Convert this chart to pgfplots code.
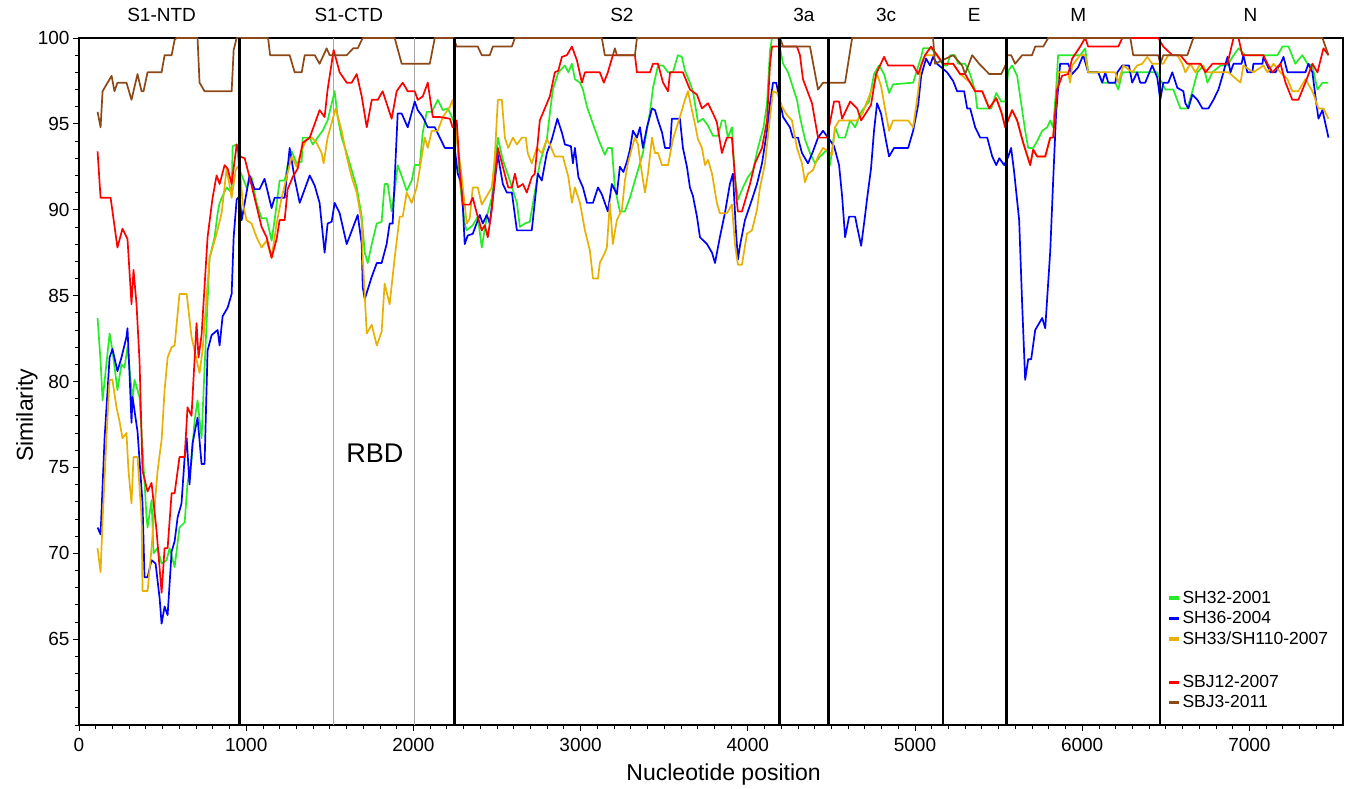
\documentclass[border=0pt]{standalone}
\usepackage{fontspec}
\setmainfont{Liberation Sans}
\usepackage{pgfplots}
\pgfplotsset{compat=1.18}
\definecolor{cgreen}{RGB}{40,235,40}
\definecolor{cblue}{RGB}{0,0,255}
\definecolor{cyellow}{RGB}{232,176,0}
\definecolor{cred}{RGB}{255,0,0}
\definecolor{cbrown}{RGB}{140,72,22}
\begin{document}
\begin{tikzpicture}
\begin{axis}[
  name=ax,
  scale only axis, width=1264pt, height=687pt,
  xmin=0, xmax=7560, ymin=60, ymax=100,
  clip=false,
  xtick={0,1000,...,7000},
  minor xtick={0,100,...,7500},
  ytick={65,70,...,100},
  minor ytick={60,61,...,100},
  tick align=outside, tick pos=left,
  major tick length=6pt, minor tick length=4pt,
  every tick/.style={black, line width=0.8pt},
  axis line style={black, line width=1.2pt},
  scaled x ticks=false,
  /pgf/number format/.cd, set thousands separator={}, assume math mode=true,
  /pgfplots/.cd,
  tick label style={font=\fontsize{19}{22}\selectfont},
  xticklabel style={yshift=-4pt},
  xlabel={Nucleotide position}, ylabel={Similarity},
  label style={font=\fontsize{23}{26}\selectfont},
  xlabel style={at={(axis description cs:0.51,0)}, anchor=center, yshift=-50pt},
  ylabel style={at={(axis description cs:-0.0411,0.451)}, anchor=center},
  legend style={at={(rel axis cs:0.861,0.197)}, anchor=north west, draw=none, fill=none,
    font=\fontsize{17.5}{20}\selectfont, row sep=3.5pt, inner sep=0pt, nodes={inner sep=1.5pt}},
  legend cell align=left,
  legend image code/.code={\draw[#1, line width=3.5pt] (0pt,0pt) -- (10pt,0pt);},
  every axis plot/.append style={line width=1.7pt, line join=round},
]
% RBD boundaries (thin gray)
\draw[gray!70, line width=1pt] (axis cs:1523,60) -- (axis cs:1523,100);
\draw[gray!70, line width=1pt] (axis cs:2008,60) -- (axis cs:2008,100);

\addplot[cgreen] coordinates {
(111,83.7)(129,81.2)(141,78.9)(183,82.8)(200,81.8)(230,79.5)(254,81.0)(272,80.8)(290,82.0)(320,78.9)(332,80.1)(362,79.1)(404,72.1)(410,71.5)(434,73.1)(446,70.0)(470,70.3)(494,69.4)(524,69.6)(542,70.3)(572,69.2)(601,71.5)(632,71.8)(649,74.1)(673,75.4)(691,77.7)(709,78.9)(733,76.7)(751,80.8)(781,87.2)(811,88.4)(829,89.8)(841,90.4)(859,90.8)(883,91.3)(913,91.0)(919,93.7)(943,93.8)(961,92.3)(1002,91.3)(1032,91.9)(1062,90.4)(1092,89.5)(1122,89.5)(1152,88.2)(1170,89.4)(1200,91.7)(1230,91.7)(1248,92.6)(1272,93.4)(1302,92.7)(1332,92.8)(1338,94.2)(1380,94.2)(1398,93.8)(1427,94.2)(1457,94.6)(1487,95.2)(1529,96.9)(1547,95.4)(1571,94.2)(1601,93.3)(1631,92.3)(1661,91.3)(1691,89.6)(1709,87.5)(1727,86.9)(1751,88.0)(1781,89.2)(1810,89.3)(1828,91.5)(1846,91.5)(1870,89.9)(1888,91.1)(1906,92.6)(1936,91.8)(1960,91.1)(1990,91.7)(2008,92.6)(2038,92.6)(2056,94.5)(2080,95.7)(2110,95.7)(2146,96.4)(2176,95.8)(2206,95.9)(2235,95.3)(2259,94.6)(2277,91.7)(2307,89.2)(2319,88.8)(2355,89.1)(2385,89.6)(2409,87.8)(2439,89.6)(2469,90.7)(2505,94.2)(2535,92.9)(2577,91.7)(2619,90.4)(2637,89.0)(2666,89.2)(2696,89.3)(2726,91.0)(2756,92.7)(2798,94.1)(2816,95.6)(2834,97.0)(2867,98.0)(2906,98.4)(2927,98.0)(2948,98.5)(2966,97.6)(2996,97.4)(3014,97.0)(3038,96.0)(3074,95.0)(3115,93.9)(3145,93.2)(3163,93.6)(3187,93.6)(3205,91.3)(3235,89.9)(3265,89.9)(3295,90.7)(3337,92.1)(3373,93.3)(3415,95.7)(3433,97.1)(3463,98.4)(3493,98.4)(3523,98.0)(3552,98.0)(3582,99.0)(3606,98.9)(3624,98.1)(3642,97.7)(3672,96.9)(3702,95.1)(3732,95.3)(3762,94.9)(3792,94.3)(3821,94.3)(3845,95.2)(3863,95.2)(3881,94.2)(3905,94.8)(3923,91.9)(3941,90.6)(3971,91.3)(4001,91.9)(4031,92.3)(4061,93.6)(4094,94.8)(4115,96.2)(4133,99.3)(4145,100)(4181,100)(4211,98.5)(4241,98.0)(4294,96.4)(4312,95.4)(4342,94.1)(4372,93.3)(4402,92.7)(4432,93.1)(4474,93.5)(4492,92.6)(4522,94.8)(4546,94.2)(4582,94.2)(4612,95.2)(4642,94.8)(4678,95.7)(4725,96.3)(4755,97.9)(4785,98.4)(4815,97.9)(4845,96.8)(4869,97.3)(4989,97.4)(5037,98.9)(5049,99.4)(5096,99.4)(5132,99.0)(5168,98.4)(5192,98.4)(5210,99.0)(5240,99.0)(5258,98.5)(5300,98.5)(5330,97.9)(5360,96.9)(5372,95.9)(5456,95.9)(5486,96.8)(5516,96.3)(5540,96.3)(5558,98.1)(5581,98.4)(5611,97.8)(5629,96.6)(5659,94.6)(5677,93.6)(5707,93.6)(5731,94.0)(5761,94.6)(5791,94.8)(5809,95.2)(5826,94.8)(5844,97.0)(5856,99.0)(5928,99.0)(5988,99.0)(6018,99.4)(6036,98.0)(6096,98.0)(6120,97.4)(6198,97.4)(6216,97.0)(6240,98.0)(6449,98.0)(6467,97.6)(6497,97.0)(6545,97.0)(6587,95.9)(6629,95.9)(6659,96.9)(6689,98.0)(6725,98.4)(6749,97.4)(6779,98.0)(6827,98.4)(6869,98.4)(6899,98.9)(6935,99.4)(6976,99.0)(7168,99.0)(7198,99.5)(7234,99.5)(7275,98.5)(7317,99.0)(7347,98.5)(7377,98.4)(7407,97.0)(7437,97.4)(7473,97.4)
};
\addlegendentry{SH32-2001}

\addplot[cblue] coordinates {
(111,71.5)(129,71.1)(153,76.7)(183,81.4)(200,81.9)(230,80.6)(254,81.4)(284,82.6)(290,83.1)(302,80.5)(314,77.6)(320,79.1)(350,77.1)(380,72.9)(392,68.6)(410,68.6)(434,69.6)(458,69.4)(482,67.4)(494,65.9)(512,66.9)(530,66.4)(554,70.1)(572,70.7)(590,72.1)(613,72.9)(632,75.6)(644,76.7)(661,74.0)(679,76.4)(709,77.9)(733,75.2)(751,75.2)(769,81.8)(793,82.7)(829,83.0)(841,82.1)(859,83.8)(889,84.3)(913,85.1)(925,88.4)(943,90.6)(961,90.8)(973,89.4)(1002,91.0)(1020,92.0)(1050,91.2)(1080,91.2)(1110,91.8)(1152,90.1)(1170,90.7)(1230,90.7)(1260,93.6)(1290,91.8)(1320,90.4)(1350,91.2)(1380,92.0)(1410,91.4)(1439,90.4)(1469,87.5)(1487,89.2)(1511,89.3)(1529,90.4)(1559,89.8)(1601,88.0)(1640,89.0)(1667,89.7)(1691,88.0)(1697,85.5)(1709,84.8)(1751,86.1)(1781,86.9)(1810,86.9)(1840,88.0)(1858,89.2)(1876,89.2)(1906,95.6)(1930,95.6)(1966,94.8)(2008,96.3)(2026,95.8)(2056,95.4)(2086,94.8)(2128,94.8)(2188,93.6)(2247,93.6)(2265,92.1)(2289,91.5)(2307,88.0)(2325,88.5)(2355,88.6)(2397,89.7)(2415,89.2)(2439,89.7)(2457,89.2)(2505,93.2)(2535,91.5)(2559,91.0)(2589,91.0)(2619,88.8)(2708,88.8)(2744,92.1)(2768,91.7)(2798,93.3)(2828,94.1)(2861,95.3)(2888,94.5)(2906,93.8)(2942,93.7)(2954,92.7)(2966,93.6)(2987,91.9)(3014,91.3)(3038,90.4)(3074,90.4)(3104,91.3)(3127,90.9)(3163,89.9)(3187,91.5)(3217,90.9)(3235,92.5)(3256,92.2)(3277,92.8)(3295,93.5)(3313,94.6)(3337,94.2)(3355,94.8)(3373,93.6)(3397,94.8)(3427,95.9)(3445,95.8)(3463,95.2)(3487,94.5)(3505,93.6)(3535,93.6)(3546,95.3)(3594,95.3)(3612,93.6)(3636,92.5)(3654,91.3)(3672,90.8)(3696,89.6)(3714,88.4)(3756,88.0)(3786,87.5)(3804,86.9)(3833,88.4)(3863,89.8)(3893,91.5)(3911,92.1)(3929,88.8)(3941,87.1)(3953,87.9)(3983,89.4)(4025,90.6)(4055,91.5)(4085,92.7)(4115,94.6)(4133,96.2)(4151,97.4)(4170,97.4)(4193,96.3)(4211,95.4)(4252,94.8)(4270,94.2)(4300,94.2)(4324,93.3)(4360,92.7)(4390,93.4)(4420,94.2)(4450,94.6)(4480,94.2)(4516,93.7)(4546,92.6)(4564,90.8)(4582,88.4)(4606,89.6)(4642,89.6)(4654,89.0)(4678,87.9)(4698,89.4)(4713,90.6)(4737,92.4)(4755,94.6)(4773,96.2)(4797,95.6)(4827,94.0)(4845,93.1)(4875,93.6)(4959,93.6)(4989,94.6)(5019,96.1)(5037,97.8)(5066,98.8)(5090,98.4)(5108,98.9)(5132,98.5)(5192,98.0)(5228,97.5)(5252,96.9)(5294,96.9)(5312,95.9)(5330,95.9)(5360,94.8)(5390,94.2)(5432,94.2)(5462,93.1)(5486,92.6)(5504,93.0)(5534,92.6)(5558,93.1)(5575,93.6)(5593,92.2)(5623,89.4)(5641,84.5)(5659,80.1)(5677,81.3)(5695,81.3)(5719,83.0)(5731,83.2)(5761,83.7)(5779,83.1)(5809,87.6)(5826,91.6)(5844,95.6)(5868,98.5)(5916,98.5)(5940,97.9)(5976,98.3)(6006,99.0)(6036,98.0)(6096,98.0)(6120,97.4)(6138,98.0)(6156,97.4)(6198,97.4)(6210,98.0)(6240,98.4)(6280,98.4)(6299,97.4)(6329,98.0)(6347,97.4)(6377,97.4)(6419,98.4)(6449,97.7)(6467,96.4)(6485,97.4)(6515,97.4)(6539,98.0)(6569,97.1)(6605,96.9)(6617,96.2)(6635,95.9)(6659,96.7)(6689,96.4)(6719,95.9)(6755,95.9)(6785,96.4)(6815,97.0)(6845,98.0)(6869,98.9)(6887,98.0)(6905,98.5)(6953,98.5)(6964,99.0)(6988,98.0)(7018,98.0)(7024,98.5)(7078,98.5)(7084,98.9)(7126,98.0)(7156,98.0)(7186,98.5)(7204,98.9)(7228,98.0)(7335,98.0)(7353,98.5)(7377,98.0)(7395,96.6)(7413,95.3)(7437,95.8)(7473,94.2)
};
\addlegendentry{SH36-2004}

\addplot[cyellow] coordinates {
(111,70.3)(129,68.9)(141,71.9)(165,76.9)(183,80.1)(200,80.1)(224,78.5)(242,77.7)(260,76.7)(284,77.0)(296,74.8)(314,72.9)(326,75.6)(350,75.6)(374,72.1)(380,67.8)(410,67.8)(434,70.3)(452,72.7)(470,74.8)(494,76.6)(512,79.5)(530,81.4)(554,82.0)(572,82.1)(601,85.1)(644,85.1)(673,82.6)(691,81.8)(721,80.5)(739,81.8)(763,84.9)(781,87.2)(823,88.6)(853,89.8)(883,92.4)(913,90.7)(937,92.3)(949,92.5)(961,92.5)(979,90.4)(1002,89.4)(1032,89.2)(1062,88.4)(1092,87.8)(1122,88.2)(1152,87.2)(1182,89.2)(1212,90.7)(1242,91.9)(1272,93.1)(1302,92.5)(1332,93.5)(1362,94.1)(1392,94.2)(1421,93.9)(1451,93.3)(1463,92.7)(1487,94.2)(1535,95.9)(1571,94.6)(1601,93.1)(1631,91.9)(1661,91.0)(1691,89.3)(1697,87.2)(1721,82.8)(1751,83.3)(1781,82.1)(1810,82.9)(1828,85.7)(1858,84.5)(1888,87.2)(1918,89.6)(1936,89.6)(1960,91.0)(1990,90.4)(2020,91.3)(2050,93.1)(2068,94.2)(2086,93.6)(2110,94.6)(2146,94.6)(2176,95.4)(2218,96.0)(2235,96.4)(2259,94.2)(2289,91.9)(2319,89.2)(2337,89.5)(2355,91.3)(2385,91.3)(2409,90.3)(2439,90.8)(2469,91.3)(2487,93.1)(2505,96.4)(2529,96.4)(2547,94.2)(2567,93.6)(2595,94.2)(2619,93.8)(2649,94.2)(2672,94.2)(2684,93.3)(2708,92.7)(2738,93.6)(2768,93.3)(2798,94.1)(2816,93.8)(2846,93.1)(2894,93.1)(2927,91.9)(2948,90.4)(2966,91.3)(2996,90.4)(3026,88.8)(3056,87.6)(3074,86.0)(3104,86.0)(3115,86.9)(3145,87.5)(3157,87.8)(3175,90.4)(3193,88.0)(3217,89.4)(3247,90.0)(3265,91.7)(3283,92.7)(3307,93.6)(3325,94.2)(3343,93.8)(3367,92.1)(3385,91.0)(3403,92.1)(3427,94.2)(3445,93.3)(3463,93.3)(3487,92.6)(3523,92.6)(3552,94.1)(3594,95.4)(3624,96.4)(3642,96.9)(3666,95.8)(3684,95.0)(3702,94.1)(3726,93.6)(3744,92.6)(3762,92.9)(3786,92.1)(3815,90.4)(3833,89.8)(3875,89.8)(3905,90.3)(3923,88.0)(3941,86.8)(3965,86.8)(3995,88.6)(4025,88.8)(4055,90.0)(4073,91.3)(4103,92.7)(4133,95.4)(4151,96.9)(4175,96.8)(4205,96.0)(4235,95.5)(4264,95.2)(4294,93.6)(4324,92.7)(4342,91.6)(4360,92.1)(4390,92.3)(4420,93.1)(4450,93.6)(4480,93.4)(4504,93.2)(4522,94.8)(4546,95.2)(4612,95.2)(4654,95.2)(4686,95.6)(4713,96.3)(4755,97.3)(4773,97.9)(4797,97.2)(4815,96.2)(4845,94.6)(4869,95.2)(4959,95.2)(4989,94.8)(5019,96.9)(5037,98.5)(5060,99.0)(5132,99.0)(5168,98.5)(5228,98.5)(5270,97.9)(5330,97.4)(5360,96.9)(5402,96.9)(5444,95.9)(5486,96.5)(5516,95.7)(5540,94.8)(5581,95.8)(5611,95.2)(5647,93.9)(5689,92.6)(5707,93.5)(5731,93.1)(5779,93.1)(5809,94.2)(5826,94.2)(5850,97.0)(5856,98.0)(5916,98.0)(5928,97.4)(5940,98.4)(5988,99.0)(6018,99.0)(6036,98.0)(6198,98.0)(6216,97.4)(6246,98.4)(6299,98.0)(6329,98.4)(6359,98.5)(6389,98.9)(6419,98.5)(6455,98.5)(6485,98.5)(6515,99.0)(6569,99.0)(6599,98.5)(6617,98.0)(6647,98.5)(6677,98.0)(6707,98.5)(6749,98.0)(6875,98.0)(6947,97.4)(6964,98.4)(7024,98.0)(7084,98.4)(7108,98.0)(7144,98.5)(7186,98.0)(7228,97.6)(7257,96.9)(7293,96.9)(7335,97.6)(7377,96.9)(7413,95.9)(7443,95.9)(7473,95.3)
};
\addlegendentry{SH33/SH110-2007}
\addlegendimage{empty legend}
\addlegendentry{\rule{0pt}{15pt}}

\addplot[cred] coordinates {
(111,93.4)(129,90.7)(189,90.7)(230,87.8)(260,88.9)(290,88.3)(314,84.5)(326,86.5)(344,84.5)(362,81.2)(380,74.8)(410,73.6)(434,74.1)(464,71.3)(494,67.7)(512,70.3)(530,70.3)(554,73.5)(572,73.5)(601,75.6)(632,75.6)(649,78.5)(673,78.0)(703,83.4)(715,81.4)(733,82.7)(769,88.4)(799,90.7)(823,92.0)(841,91.5)(871,92.6)(889,92.4)(913,91.5)(943,93.8)(961,93.1)(991,93.0)(1020,91.9)(1050,90.7)(1092,89.0)(1122,88.4)(1152,87.2)(1182,88.3)(1200,89.4)(1230,89.4)(1248,91.2)(1278,91.9)(1308,92.4)(1338,93.9)(1380,94.2)(1439,95.8)(1469,95.4)(1487,97.0)(1523,99.3)(1559,98.0)(1601,97.4)(1631,97.4)(1661,97.9)(1691,96.6)(1721,94.8)(1751,96.4)(1787,96.4)(1816,96.9)(1870,95.3)(1900,96.9)(1936,97.4)(1966,96.9)(2008,96.9)(2026,96.4)(2056,96.6)(2086,97.4)(2116,95.4)(2158,95.4)(2218,95.3)(2235,94.8)(2259,95.2)(2277,92.3)(2295,90.3)(2337,90.3)(2355,90.7)(2379,89.8)(2409,88.8)(2427,89.1)(2445,88.4)(2469,90.0)(2505,93.6)(2535,92.5)(2567,91.3)(2589,91.3)(2607,92.1)(2625,91.3)(2655,91.5)(2678,91.0)(2708,91.9)(2726,92.1)(2756,95.2)(2816,96.6)(2846,98.0)(2867,98.1)(2888,98.9)(2918,99.0)(2948,99.5)(2978,98.7)(3008,97.4)(3026,98.0)(3115,98.0)(3139,97.4)(3163,98.0)(3193,99.0)(3325,99.0)(3337,98.0)(3415,98.0)(3433,98.5)(3463,98.5)(3493,97.4)(3523,96.9)(3535,98.0)(3612,98.0)(3654,97.0)(3696,96.7)(3726,95.9)(3762,96.2)(3792,95.6)(3815,95.1)(3845,93.3)(3875,94.2)(3905,94.2)(3935,90.4)(3941,89.9)(3965,89.9)(4013,91.5)(4043,92.7)(4085,93.6)(4115,95.2)(4133,98.5)(4145,99.5)(4294,99.5)(4312,99.0)(4330,97.6)(4384,96.2)(4420,94.2)(4474,94.2)(4516,96.3)(4546,96.3)(4564,95.3)(4612,96.3)(4654,95.9)(4678,95.2)(4737,96.1)(4767,97.9)(4815,98.9)(4839,98.4)(4989,98.4)(5019,97.9)(5060,99.0)(5096,99.5)(5132,99.0)(5168,98.5)(5228,98.5)(5270,97.9)(5300,97.9)(5330,97.4)(5360,96.9)(5402,96.9)(5444,95.9)(5486,96.5)(5516,95.7)(5540,94.8)(5581,95.8)(5611,95.2)(5647,93.9)(5689,92.6)(5707,93.5)(5731,93.1)(5779,93.1)(5809,94.2)(5826,94.2)(5850,97.0)(5880,97.8)(5916,97.9)(5940,98.8)(5988,99.5)(6018,100)(6036,99.5)(6216,99.5)(6240,100)(6455,100)(6485,99.5)(6539,99.0)(6587,99.0)(6629,98.5)(6707,98.5)(6737,98.0)(6779,98.5)(6869,98.5)(6905,100)(6935,100)(6958,99.0)(7084,99.0)(7108,98.5)(7138,98.0)(7186,98.5)(7216,97.4)(7257,96.4)(7293,96.4)(7335,97.4)(7377,98.5)(7407,98.0)(7443,99.4)(7473,99.0)
};
\addlegendentry{SBJ12-2007}

\addplot[cbrown] coordinates {
(111,95.7)(129,94.8)(141,96.9)(195,97.8)(212,96.9)(230,97.4)(284,97.4)(314,96.4)(350,97.9)(374,96.9)(386,96.9)(410,98.0)(494,98.0)(512,99.0)(554,99.0)(572,99.9)(584,100)(709,100)(721,97.4)(751,96.9)(913,96.9)(925,99.3)(943,100)(1131,100)(1143,99.0)(1260,99.0)(1290,98.0)(1332,98.0)(1350,99.0)(1410,99.0)(1439,98.5)(1481,99.4)(1499,99.0)(1601,99.0)(1640,99.4)(1667,99.4)(1697,100)(1888,100)(1930,98.5)(2098,98.5)(2128,100)(2240,100)(2259,99.5)(2385,99.5)(2409,99.0)(2457,99.0)(2475,99.5)(2589,99.5)(2607,100)(3127,100)(3145,99.0)(3193,99.0)(3205,99.4)(3217,99.0)(3325,99.0)(3337,100)(4193,100)(4211,99.5)(4372,99.5)(4420,97.0)(4450,97.4)(4582,97.4)(4624,100)(5108,100)(5120,98.5)(5228,99.0)(5282,98.4)(5300,97.9)(5342,99.0)(5384,98.5)(5444,97.9)(5516,97.9)(5546,98.5)(5552,99.0)(5575,99.0)(5599,98.5)(5641,99.0)(5700,99.0)(5719,99.5)(5767,99.5)(5797,100)(6288,100)(6305,99.0)(6455,99.0)(6467,98.5)(6485,99.0)(6629,99.0)(6665,100)(7437,100)(7473,99.0)
};
\addlegendentry{SBJ3-2011}

% gene boundaries
\pgfplotsinvokeforeach{961,2247,4190,4484,5168,5546,6465}{
  \draw[black, line width=2.5pt] (axis cs:#1,60) -- (axis cs:#1,100);
}
% region labels
\begin{scope}[every node/.style={font=\fontsize{19}{22}\selectfont, anchor=center, yshift=23pt}]
\node at (axis cs:494,100) {S1-NTD};
\node at (axis cs:1614,100) {S1-CTD};
\node at (axis cs:3247,100) {S2};
\node at (axis cs:4336,100) {3a};
\node at (axis cs:4827,100) {3c};
\node at (axis cs:5354,100) {E};
\node at (axis cs:5976,100) {M};
\node at (axis cs:7006,100) {N};
\end{scope}
\node[font=\fontsize{27}{30}\selectfont, anchor=center] at (axis cs:1769,75.8) {RBD};
\end{axis}
\pgfresetboundingbox
\path[use as bounding box] ([shift={(-79pt,-63pt)}]ax.south west) rectangle ([shift={(5pt,38pt)}]ax.north east);
\end{tikzpicture}
\end{document}
